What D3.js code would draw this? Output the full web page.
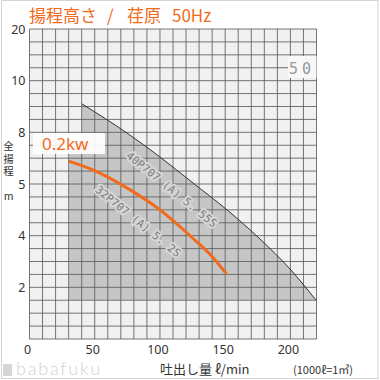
<!DOCTYPE html>
<html><head><meta charset="utf-8">
<script src="https://cdn.jsdelivr.net/npm/d3@7/dist/d3.min.js"></script>
<style>html,body{margin:0;padding:0;background:#fff;}svg{display:block;}</style>
</head><body><div id="chart"></div>
<script>
// ---- data ----
const titleParts = ["揚程高さ", "/", "荏原", "50Hz"];
const seriesName = "0.2kw";
const xTicks = [0, 50, 100, 150, 200];
const xMax = 220;
const yTicks = [0, 2, 4, 5, 8, 10, 20];
const yTickLabels = ["", "2", "4", "5", "8", "10", "20"];
const flow = [30, 49, 75, 100, 125, 141, 151];
const head = [6.33, 5.81, 4.92, 4.50, 3.91, 3.14, 2.52];
// operating range (shaded area) boundary
const rangeFlow = [40.2, 74.7, 100, 125.3, 151.4, 176.7, 199.7, 219.5, 30.3, 30.3, 40.2];
const rangeHead = [9.1, 7.96, 6.57, 5.06, 4.50, 3.87, 2.71, 1.51, 1.51, 7.15, 7.15];
const upperEdgeCount = 8; // first points form the dark upper edge
const modelLabels = ["40P707 (A) 5. 55S", "32P707 (A) 5. 2S"];
const xTitle = "吐出し量 ℓ/min";
const unitNote = "(1000ℓ=1㎥)";
const yTitle = "全揚程 m";

// ---- layout ----
const W = 380, H = 380;
const L = 29.5, R = 316.5, T = 29, B = 339;
const orange = "#f26b1d";

const svg = d3.select("#chart").append("svg").attr("width", W).attr("height", H);

const x = d3.scaleLinear().domain([0, xMax]).range([L, R]);
// non-linear head axis: labelled ticks equally spaced (4 grid cells each)
const cellCount = 24;
const cell = (B - T) / cellCount;
const y = d3.scaleLinear().domain(yTicks).range(yTicks.map((d, i) => B - i * 4 * cell));

// frame
svg.append("rect").attr("x", 1.5).attr("y", 0.5).attr("width", 376.5).attr("height", 378)
  .attr("fill", "none").attr("stroke", "#d4d4d4");

// plot background
svg.append("rect").attr("x", L).attr("y", T).attr("width", R - L).attr("height", B - T).attr("fill", "#f1f1f1");

// shaded range
const pts = rangeFlow.map((f, i) => [x(f), y(rangeHead[i])]);
const upper = d3.line().curve(d3.curveMonotoneX)(pts.slice(0, upperEdgeCount));
const rest = pts.slice(upperEdgeCount).map(p => "L" + p[0] + "," + p[1]).join("");
svg.append("path").attr("d", upper + rest + "Z").attr("fill", "#c6c6c6");

// grid
const g = svg.append("g").attr("stroke", "#5e5e5e").attr("stroke-width", 1).attr("stroke-opacity", 0.85);
d3.range(0, xMax + 1, 10).forEach(v => {
  g.append("line").attr("x1", x(v)).attr("x2", x(v)).attr("y1", T).attr("y2", B);
});
const gridY = d3.scaleLinear().domain([0, cellCount]).range([B, T]);
d3.range(0, cellCount + 1).forEach(i => {
  g.append("line").attr("x1", L).attr("x2", R).attr("y1", gridY(i)).attr("y2", gridY(i));
});

// upper edge of range
svg.append("path").attr("d", upper)
  .attr("fill", "none").attr("stroke", "#333").attr("stroke-width", 1);

// model labels along the diagonal
const ml = [[128, 154], [97, 188]];
modelLabels.forEach((t, i) => {
  svg.append("text").attr("transform", `translate(${ml[i][0]},${ml[i][1]}) rotate(39)`)
    .attr("font-family", "DejaVu Sans Mono").attr("font-size", 11).attr("fill", "#7a7a7a")
    .attr("stroke", "#d6d6d6").attr("stroke-width", 4).attr("stroke-linejoin", "round")
    .attr("paint-order", "stroke")
    .attr("dy", "0.35em").text(t);
});

// "5 0" scan remnant box
svg.append("clipPath").attr("id", "boxclip").append("rect")
  .attr("x", 288).attr("y", 56).attr("width", 28.5).attr("height", 22);
svg.append("rect").attr("x", 288).attr("y", 56).attr("width", 28.5).attr("height", 22).attr("fill", "#f8f8f8");
svg.append("line").attr("x1", 278).attr("x2", 288).attr("y1", 67.5).attr("y2", 67.5).attr("stroke", "#888");
svg.append("text").attr("x", 289).attr("y", 74).attr("clip-path", "url(#boxclip)")
  .attr("font-family", "DejaVu Sans Mono").attr("font-size", 15).attr("fill", "#999")
  .attr("letter-spacing", 4).text("50|");

// pump curve
svg.append("path")
  .attr("d", d3.line().x((d, i) => x(flow[i])).y((d, i) => y(head[i])).curve(d3.curveMonotoneX)(flow))
  .attr("fill", "none").attr("stroke", orange).attr("stroke-width", 3);

// series label
svg.append("rect").attr("x", 33).attr("y", 133).attr("width", 72).attr("height", 21).attr("fill", "#fff").attr("fill-opacity", 0.92);
svg.append("text").attr("x", 42).attr("y", 149.5).attr("font-family", "Noto Sans").attr("font-size", 17)
  .attr("fill", orange).text(seriesName);

// y tick labels
yTicks.forEach((v, i) => {
  if (!yTickLabels[i]) return;
  svg.append("text").attr("x", 25.5).attr("y", y(v)).attr("dy", "0.36em").attr("text-anchor", "end")
    .attr("font-family", "Noto Sans").attr("font-size", 12.5).attr("fill", "#333").text(yTickLabels[i]);
});
// x tick labels
xTicks.forEach(v => {
  svg.append("text").attr("x", x(v) - 2).attr("y", 353.5).attr("text-anchor", "middle")
    .attr("font-family", "Noto Sans").attr("font-size", 12.5).attr("fill", "#333").text(v);
});

// y title (vertical writing)
svg.append("text").attr("x", 8.5).attr("y", 141)
  .style("writing-mode", "vertical-rl").style("text-orientation", "upright")
  .attr("font-family", "Noto Sans CJK JP").attr("font-size", 10.5).attr("letter-spacing", 2)
  .attr("fill", "#333").text(yTitle);

// x title
svg.append("text").attr("x", 160).attr("y", 374).attr("font-family", "Noto Sans CJK JP")
  .attr("font-size", 13).attr("fill", "#333").text(xTitle);
svg.append("text").attr("x", 293).attr("y", 374).attr("font-family", "Noto Sans CJK JP")
  .attr("font-size", 11).attr("fill", "#333").text(unitNote);

// title
const titleX = [29, 107, 127, 172];
const tt = svg.append("text").attr("y", 22).attr("font-family", "Noto Sans CJK JP")
  .attr("font-size", 17).attr("fill", orange);
titleParts.forEach((p, i) => tt.append("tspan").attr("x", titleX[i]).text(p));

// watermark
svg.append("rect").attr("x", 3).attr("y", 364).attr("width", 9).attr("height", 12).attr("fill", "#d6d6d6");
svg.append("text").attr("x", 16).attr("y", 375).attr("font-family", "Lato").attr("font-size", 18)
  .attr("letter-spacing", 1.8).attr("fill", "#d2d2d2").attr("font-weight", 300).text("babafuku");
</script></body></html>
